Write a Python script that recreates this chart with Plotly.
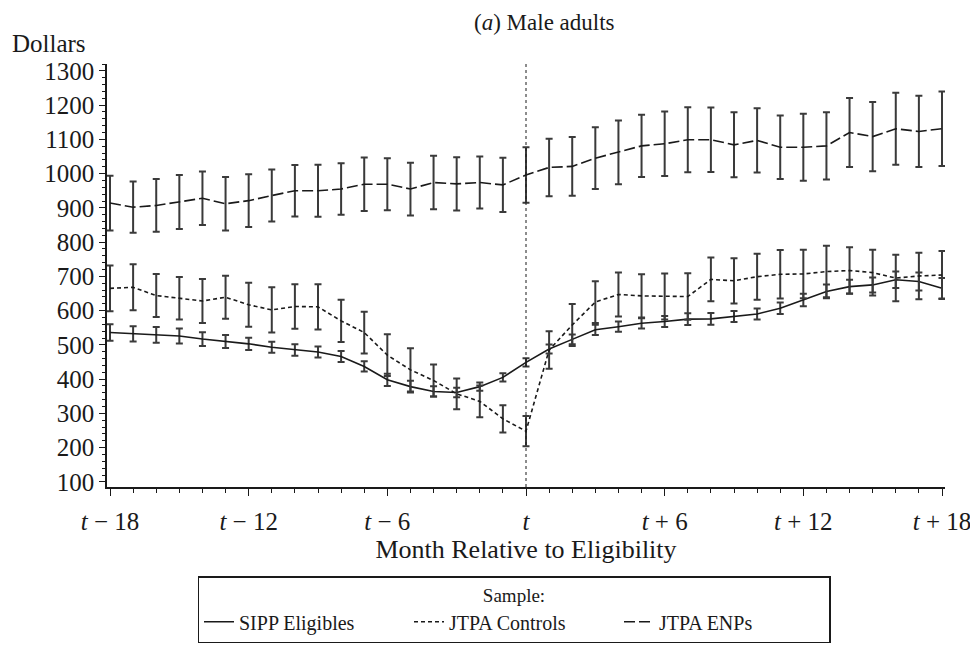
import plotly.graph_objects as go

# Meses relativos à elegibilidade
months = list(range(-18, 19))

sipp = [536, 532, 529, 526, 517, 510, 503, 493, 485, 479, 466, 437, 398, 378, 364, 361, 378, 405,
        449, 488, 516, 544, 553, 563, 568, 575, 576, 583, 590, 607, 631, 656, 670, 675, 690, 685, 665]
sipp_err = [24, 22, 23, 22, 20, 19, 18, 16, 17, 16, 16, 15, 18, 17, 15, 14, 12, 12,
            12, 13, 14, 15, 15, 15, 16, 17, 17, 16, 16, 17, 18, 20, 20, 22, 24, 26, 30]

controls = [665, 668, 644, 636, 628, 639, 617, 602, 612, 611, 570, 536, 470, 427, 396, 357, 335, 284,
            248, 485, 558, 625, 647, 643, 641, 641, 691, 687, 699, 706, 707, 714, 717, 711, 695, 701, 704]
controls_err = [67, 67, 63, 62, 64, 63, 64, 66, 65, 66, 62, 61, 61, 63, 47, 45, 46, 40,
                44, 55, 61, 61, 64, 63, 67, 68, 64, 66, 67, 71, 71, 75, 68, 67, 68, 68, 70]

enps = [914, 902, 907, 917, 928, 912, 921, 936, 950, 950, 955, 969, 969, 955, 974, 970, 974, 967,
        996, 1018, 1021, 1045, 1062, 1081, 1087, 1099, 1099, 1084, 1097, 1077, 1077, 1081, 1120, 1108, 1131, 1123, 1131]
enps_err = [80, 75, 77, 79, 78, 78, 77, 76, 75, 76, 75, 78, 76, 77, 78, 78, 76, 79,
            81, 84, 86, 90, 93, 91, 94, 95, 94, 95, 94, 93, 98, 98, 101, 101, 105, 104, 109]

x_tickvals = [-18, -12, -6, 0, 6, 12, 18]
x_ticktext = ["<i>t</i> \u2212 18", "<i>t</i> \u2212 12", "<i>t</i> \u2212 6", "<i>t</i>",
              "<i>t</i> + 6", "<i>t</i> + 12", "<i>t</i> + 18"]
y_tickvals = list(range(100, 1400, 100))

FONT = "Liberation Serif"
INK = "#1a1a1a"

series = [
    ("SIPP Eligibles", sipp, sipp_err, "solid"),
    ("JTPA Controls", controls, controls_err, "4px,3px"),
    ("JTPA ENPs", enps, enps_err, "11px,4px"),
]

fig = go.Figure()
for name, vals, errs, dash in series:
    fig.add_trace(go.Scatter(
        x=months, y=vals, name=name, mode="lines",
        line=dict(color=INK, width=1.6, dash=dash),
        error_y=dict(type="data", array=errs, visible=True,
                     color="#3a3a3a", thickness=2, width=3.5),
    ))

# linha vertical pontilhada em t
fig.add_shape(type="line", xref="x", yref="paper", x0=0, x1=0, y0=0, y1=1,
              line=dict(color=INK, width=1, dash="dot"))

# área do gráfico: 838 x 423 px
L, T, W, H = 99, 56, 838, 423

fig.update_layout(
    width=978, height=647,
    margin=dict(l=L, r=978 - L - W, t=T, b=647 - T - H),
    paper_bgcolor="white", plot_bgcolor="white",
    font=dict(family=FONT, color=INK, size=24),
    showlegend=True,
    legend=dict(
        orientation="h", x=(506 - L) / W, xanchor="center", y=(T + H - 568) / H, yanchor="top",
        title=dict(text="Sample:", side="top center", font=dict(size=19)),
        font=dict(size=20),
        bordercolor=INK, borderwidth=1.5,
        entrywidth=165, entrywidthmode="pixels",
        traceorder="normal", tracegroupgap=0,
    ),
    xaxis=dict(
        range=[-18.13, 18.13], showgrid=False, zeroline=False,
        showline=True, linecolor=INK, linewidth=1.5,
        tickmode="array", tickvals=x_tickvals, ticktext=x_ticktext,
        ticks="outside", ticklen=7, tickwidth=1.2, tickcolor=INK,
        minor=dict(dtick=1, ticks="outside", ticklen=4, tickcolor=INK, tickwidth=1),
        tickfont=dict(size=25), ticklabelstandoff=4,
        title=dict(text="Month Relative to Eligibility", font=dict(size=26), standoff=2),
    ),
    yaxis=dict(
        range=[85, 1320], showgrid=False, zeroline=False,
        showline=True, linecolor=INK, linewidth=1.5,
        tickmode="array", tickvals=y_tickvals,
        ticks="outside", ticklen=6, tickwidth=1.2, tickcolor=INK,
        minor=dict(dtick=20, tick0=0, ticks="outside", ticklen=3, tickcolor=INK, tickwidth=1),
        tickfont=dict(size=25),
    ),
    annotations=[
        dict(text="(<i>a</i>) Male adults", x=(536 - L) / W, y=1 + (T - 15) / H,
             xref="paper", yref="paper", xanchor="center", yanchor="middle",
             showarrow=False, font=dict(size=23)),
        dict(text="Dollars", x=(2 - L) / W, y=1 + (T - 35) / H,
             xref="paper", yref="paper", xanchor="left", yanchor="middle",
             showarrow=False, font=dict(size=25)),
    ],
)

fig.write_html("out.html")
